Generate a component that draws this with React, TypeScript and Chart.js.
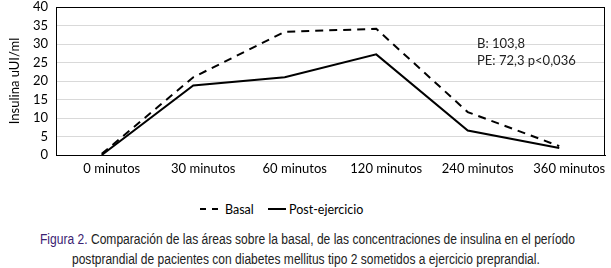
import React, { useEffect, useRef } from "react";
import { Chart, registerables } from "chart.js";

Chart.register(...registerables);

const categories = ["0 minutos", "30 minutos", "60 minutos", "120 minutos", "240 minutos", "360 minutos"];
const basal = [0.3, 21.0, 33.3, 34.1, 11.6, 2.4];
const postEjercicio = [0, 18.8, 21.0, 27.2, 6.6, 1.9];
const yMin = 0;
const yMax = 40;
const yStep = 5;
const yTitle = "Insulina uUI/ml";
const seriesNames = ["Basal", "Post-ejercicio"];
const annotationLines = ["B: 103,8", "PE: 72,3 p<0,036"];
const captionLabel = "Figura 2.";
const captionLine1 = " Comparación de las áreas sobre la basal, de las concentraciones de insulina en el período";
const captionLine2 = "postprandial de pacientes con diabetes mellitus tipo 2 sometidos a ejercicio preprandial.";

const FONT = "Lato, 'Open Sans', sans-serif";

const framePlugin = {
  id: "frame",
  beforeDatasetsDraw(chart: any) {
    const { ctx, chartArea } = chart;
    ctx.save();
    ctx.strokeStyle = "#000";
    ctx.lineWidth = 1;
    ctx.strokeRect(
      Math.round(chartArea.left) + 0.5,
      Math.round(chartArea.top) + 0.5,
      Math.round(chartArea.right - chartArea.left) - 1,
      Math.round(chartArea.bottom - chartArea.top)
    );
    ctx.restore();
  },
  afterDraw(chart: any) {
    const { ctx, chartArea } = chart;
    ctx.save();
    ctx.fillStyle = "#222";
    ctx.font = `13px ${FONT}`;
    ctx.textBaseline = "alphabetic";
    ctx.textAlign = "left";
    const x = chartArea.left + 421;
    annotationLines.forEach((t, i) => {
      ctx.fillText(t, x, chartArea.top + 41 + i * 16.5);
    });
    ctx.restore();
  },
};

function LegendItem({ dashed, label, left }: { dashed: boolean; label: string; left: number }) {
  return (
    <div style={{ position: "absolute", left, top: 201, height: 16, display: "flex", alignItems: "center", whiteSpace: "nowrap" }}>
      <svg width={18} height={4} style={{ display: "block" }}>
        <line x1={0} y1={2} x2={18} y2={2} stroke="#000" strokeWidth={2} strokeDasharray={dashed ? "6 6" : undefined} />
      </svg>
      <span style={{ marginLeft: dashed ? 7 : 3, fontFamily: FONT, fontSize: 12.5, color: "#000" }}>{label}</span>
    </div>
  );
}

export default function App() {
  const ref = useRef<HTMLCanvasElement | null>(null);
  const l1 = useRef<HTMLDivElement | null>(null);
  const l2 = useRef<HTMLDivElement | null>(null);

  useEffect(() => {
    if (!ref.current) return;
    const chart = new Chart(ref.current, {
      type: "line",
      data: {
        labels: categories,
        datasets: [
          {
            label: seriesNames[0],
            data: basal,
            borderColor: "#000",
            backgroundColor: "#000",
            borderWidth: 2,
            borderDash: [8, 6],
            pointRadius: 0,
            tension: 0,
            fill: false,
          },
          {
            label: seriesNames[1],
            data: postEjercicio,
            borderColor: "#000",
            backgroundColor: "#000",
            borderWidth: 2,
            pointRadius: 0,
            tension: 0,
            fill: false,
          },
        ],
      },
      options: {
        animation: false,
        responsive: false,
        maintainAspectRatio: false,
        layout: { padding: { left: 0, right: 6, top: 0, bottom: 0 } },
        plugins: {
          legend: { display: false },
          tooltip: { enabled: false },
        },
        scales: {
          x: {
            offset: true,
            grid: { display: false, drawTicks: false },
            border: { color: "#000" },
            ticks: {
              color: "#000",
              font: { family: FONT, size: 13 },
              padding: 6,
              labelOffset: 10,
              maxRotation: 0,
              autoSkip: false,
            },
            afterFit: (s: any) => {
              s.height = 22;
            },
          },
          y: {
            min: yMin,
            max: yMax,
            grid: { color: "#d9d9d9", drawTicks: false },
            border: { color: "#000" },
            ticks: {
              stepSize: yStep,
              autoSkip: false,
              color: "#000",
              font: { family: FONT, size: 13 },
              padding: 8,
            },
            title: {
              display: true,
              text: yTitle,
              color: "#000",
              font: { family: FONT, size: 13 },
              padding: { top: 7, bottom: 0 },
            },
            afterFit: (s: any) => {
              s.width = 56;
              s.paddingTop = 7;
              s.paddingBottom = 0;
            },
          },
        },
      },
      plugins: [framePlugin],
    });

    const fit = (el: HTMLDivElement | null, target: number) => {
      if (!el) return;
      const w = el.scrollWidth;
      if (w > 0) el.style.transform = `scaleX(${target / w})`;
    };
    fit(l1.current, 535);
    fit(l2.current, 468);

    return () => chart.destroy();
  }, []);

  const captionLineStyle: React.CSSProperties = {
    position: "absolute",
    left: 0,
    whiteSpace: "nowrap",
    fontFamily: "'Liberation Sans', Arial, sans-serif",
    fontSize: 14,
    lineHeight: "20px",
    color: "#222",
    transformOrigin: "0 50%",
  };

  return (
    <div style={{ position: "absolute", left: 0, top: 0, width: 611, height: 268, background: "#fff" }}>
      <canvas ref={ref} width={611} height={177} style={{ position: "absolute", left: 0, top: 0 }} />
      <LegendItem dashed label={seriesNames[0]} left={200} />
      <LegendItem dashed={false} label={seriesNames[1]} left={268} />
      <div style={{ position: "absolute", left: 40, top: 229, width: 535, height: 20 }}>
        <div ref={l1} style={{ ...captionLineStyle, top: 0 }}>
          <span style={{ color: "#3b2272" }}>{captionLabel}</span>
          {captionLine1}
        </div>
      </div>
      <div style={{ position: "absolute", left: 72, top: 249, width: 468, height: 20 }}>
        <div ref={l2} style={{ ...captionLineStyle, top: 0 }}>{captionLine2}</div>
      </div>
    </div>
  );
}
